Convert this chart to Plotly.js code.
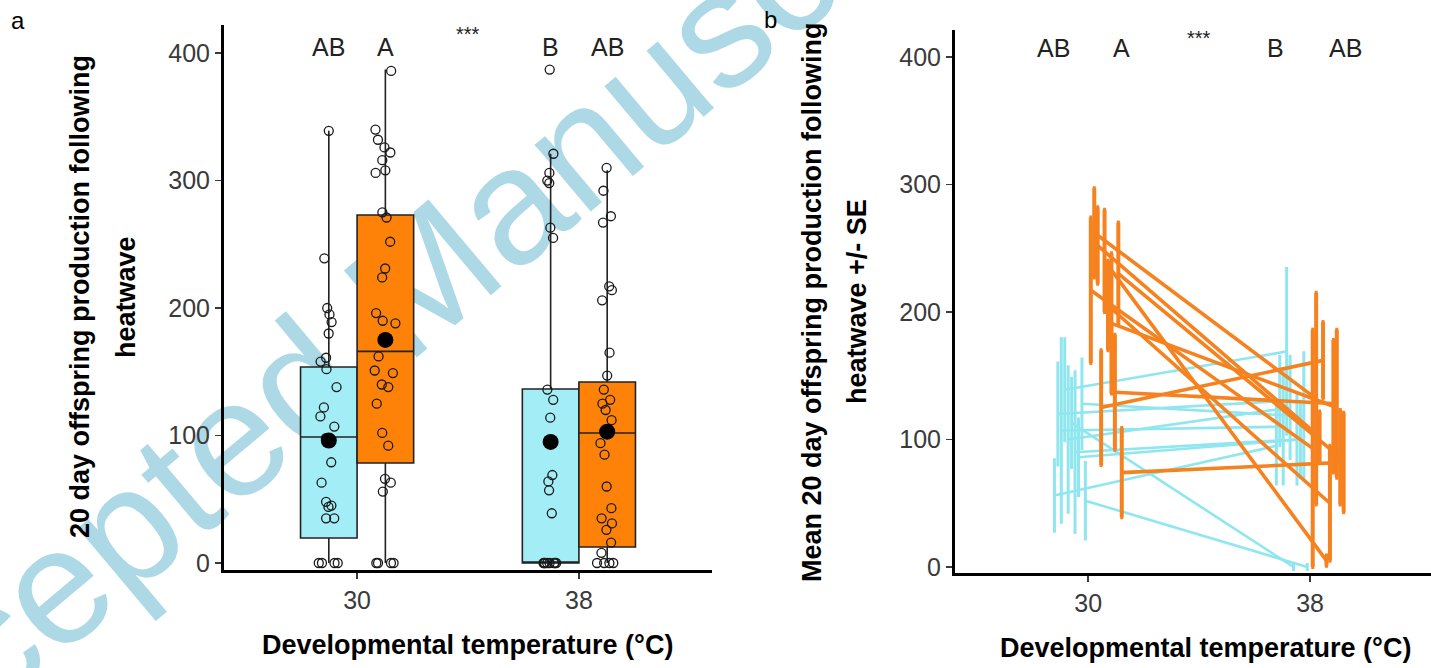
<!DOCTYPE html>
<html>
<head>
<meta charset="utf-8">
<script src="https://cdn.plot.ly/plotly-3.0.1.min.js"></script>
<style>
  html, body { margin:0; padding:0; background:#ffffff; width:1431px; height:668px; overflow:hidden; }
  #wm { position:absolute; left:-192px; top:712px; font-family:'Liberation Sans', Arial, sans-serif; font-size:165px; line-height:165px; color:#add8e6; white-space:nowrap; transform-origin:0 50%; transform:rotate(-40deg); z-index:0; }
  #chart { position:absolute; left:0; top:0; width:1431px; height:668px; z-index:1; }
</style>
</head>
<body>
<div id="wm">Accepted Manuscript</div>
<div id="chart"></div>
<script>
// ---------- DATA ----------
const temps = ["30", "38"];
const groupNames = ["Group cyan", "Group orange"];

// Panel a: box statistics
const cyanQ1 = [19.6, 0];
const cyanMedian = [98.8, 0];
const cyanQ3 = [153.7, 136.5];
const cyanLower = [0, 0];
const cyanUpper = [339, 321];

const orangeQ1 = [78.4, 12.5];
const orangeMedian = [166, 102];
const orangeQ3 = [273, 142];
const orangeLower = [0, 0];
const orangeUpper = [387, 308];

// Panel a: individual observations
const cyan30 = [339, 239, 200, 195, 189, 180, 161, 158, 152, 138, 122, 115, 107, 98, 79, 63, 48, 45, 44, 35, 35, 0, 0, 0, 0];
const orange30 = [386, 340, 332, 326, 322, 316, 308, 306, 275, 271, 252, 231, 224, 196, 190, 188, 162, 151, 149, 140, 138, 125, 102, 92, 66, 63, 56, 0, 0, 0, 0];
const cyan38 = [387, 321, 306, 300, 298, 263, 255, 136, 128, 114, 69, 64, 57, 39, 0, 0, 0, 0, 0, 0, 0, 0];
const orange38 = [310, 292, 272, 267, 217, 214, 206, 165, 147, 136, 128, 125, 120, 112, 103, 94, 85, 60, 43, 35, 31, 26, 16, 8, 0, 0, 0, 0];

// Panel a: group means
const cyanMeans = [96, 95];
const orangeMeans = [175, 103];

// Significance letters (shared by both panels)
const letters = ["AB", "A", "B", "AB"];
const starText = "***";

// Panel b: genotype means and SE (cyan group)
const c30 = [56, 120, 107, 139, 100, 113, 90, 86, 128, 52];
const c30se = [28, 40, 72, 40, 57, 35, 63, 30, 35, 30];
const c38 = [95, 130, 110, 169, 125, 0, 100, 100, 118, 0];
const c38se = [30, 35, 45, 65, 40, 2, 35, 30, 50, 2];

// Panel b: genotype means and SE (orange group)
const o30 = [217, 262, 252, 125, 240, 205, 191, 137, 230, 74];
const o30se = [57, 35, 30, 45, 40, 35, 55, 45, 40, 35];
const o38 = [93, 132, 102, 162, 5, 50, 126, 128, 86, 82];
const o38se = [93, 83, 20, 30, 4, 45, 52, 58, 37, 39];

// ---------- STYLE ----------
const FONT = "'Liberation Sans', Arial, Helvetica, sans-serif";
const cyanFill = '#a3eef6';
const orangeFill = '#ff8208';
const cyanLine = '#8fe6ef';
const orangeLine = '#f5821f';
const W = 1431, H = 668;

// ---------- PANEL A TRACES ----------
function rep(v, n) { return Array.from({length:n}, () => v); }

const traces = [];
traces.push({
  type:'box', name:groupNames[0], x:temps, q1:cyanQ1, median:cyanMedian, q3:cyanQ3,
  lowerfence:cyanLower, upperfence:cyanUpper, offsetgroup:'c', boxpoints:false,
  fillcolor:cyanFill, line:{color:'#222', width:1.6}, whiskerwidth:0, xaxis:'x', yaxis:'y'
});
traces.push({
  type:'box', name:groupNames[1], x:temps, q1:orangeQ1, median:orangeMedian, q3:orangeQ3,
  lowerfence:orangeLower, upperfence:orangeUpper, offsetgroup:'o', boxpoints:false,
  fillcolor:orangeFill, line:{color:'#222', width:1.6}, whiskerwidth:0, xaxis:'x', yaxis:'y'
});
const ptMarker = {symbol:'circle-open', size:9, color:'#1a1a1a', line:{width:1.3}};
traces.push({
  type:'box', name:groupNames[0], x:rep(temps[0], cyan30.length).concat(rep(temps[1], cyan38.length)),
  y:cyan30.concat(cyan38), offsetgroup:'c', boxpoints:'all', jitter:0.42, pointpos:0,
  fillcolor:'rgba(0,0,0,0)', line:{width:0, color:'rgba(0,0,0,0)'}, marker:ptMarker, xaxis:'x', yaxis:'y'
});
traces.push({
  type:'box', name:groupNames[1], x:rep(temps[0], orange30.length).concat(rep(temps[1], orange38.length)),
  y:orange30.concat(orange38), offsetgroup:'o', boxpoints:'all', jitter:0.42, pointpos:0,
  fillcolor:'rgba(0,0,0,0)', line:{width:0, color:'rgba(0,0,0,0)'}, marker:ptMarker, xaxis:'x', yaxis:'y'
});
const meanMarker = {symbol:'circle', size:16, color:'#000'};
traces.push({
  type:'box', name:groupNames[0], x:temps, y:cyanMeans, offsetgroup:'c', boxpoints:'all', jitter:0, pointpos:0,
  fillcolor:'rgba(0,0,0,0)', line:{width:0, color:'rgba(0,0,0,0)'}, marker:meanMarker, xaxis:'x', yaxis:'y'
});
traces.push({
  type:'box', name:groupNames[1], x:temps, y:orangeMeans, offsetgroup:'o', boxpoints:'all', jitter:0, pointpos:0,
  fillcolor:'rgba(0,0,0,0)', line:{width:0, color:'rgba(0,0,0,0)'}, marker:meanMarker, xaxis:'x', yaxis:'y'
});

// ---------- PANEL B TRACES (dodged genotype reaction norms) ----------
const dodgeStep = 0.0155;
c30.forEach((v, i) => {
  const off = -0.152 + i * dodgeStep;
  traces.push({
    type:'scatter', mode:'lines', name:groupNames[0], x:[0 + off, 1 + off], y:[c30[i], c38[i]],
    line:{color:cyanLine, width:2.6},
    error_y:{type:'data', array:[c30se[i], c38se[i]], visible:true, color:cyanLine, thickness:3, width:1.5},
    xaxis:'x2', yaxis:'y2'
  });
});
o30.forEach((v, i) => {
  const off = 0.012 + i * dodgeStep;
  traces.push({
    type:'scatter', mode:'lines', name:groupNames[1], x:[0 + off, 1 + off], y:[o30[i], o38[i]],
    line:{color:orangeLine, width:3.6},
    error_y:{type:'data', array:[o30se[i], o38se[i]], visible:true, color:orangeLine, thickness:4, width:1.5},
    xaxis:'x2', yaxis:'y2'
  });
});

// ---------- LAYOUT ----------
const tickFont = {family:FONT, size:25, color:'#3a3a3a'};
const axisCommon = {
  showline:true, linewidth:3, linecolor:'#000', ticks:'outside', ticklen:6, tickwidth:1.5, tickcolor:'#3a3a3a',
  tickfont:tickFont, showgrid:false, zeroline:false, fixedrange:true
};

const titleFont = {family:FONT, size:27, color:'#000'};
const ann = [];
// panel labels
ann.push({text:'a', xref:'paper', yref:'paper', x:18/W, y:1-20/H, xanchor:'center', yanchor:'middle', showarrow:false, font:{family:FONT, size:24, color:'#000'}});
ann.push({text:'b', xref:'paper', yref:'paper', x:770/W, y:1-19/H, xanchor:'center', yanchor:'middle', showarrow:false, font:{family:FONT, size:24, color:'#000'}});
// y titles (two lines each)
ann.push({text:'<b>20 day offspring production following</b>', xref:'paper', yref:'paper', x:80/W, y:1-297/H, xanchor:'center', yanchor:'middle', textangle:-90, showarrow:false, font:titleFont});
ann.push({text:'<b>heatwave</b>', xref:'paper', yref:'paper', x:126/W, y:1-297/H, xanchor:'center', yanchor:'middle', textangle:-90, showarrow:false, font:titleFont});
ann.push({text:'<b>Mean 20 day offspring production following</b>', xref:'paper', yref:'paper', x:812/W, y:1-302/H, xanchor:'center', yanchor:'middle', textangle:-90, showarrow:false, font:titleFont});
ann.push({text:'<b>heatwave +/- SE</b>', xref:'paper', yref:'paper', x:857/W, y:1-302/H, xanchor:'center', yanchor:'middle', textangle:-90, showarrow:false, font:titleFont});
// x titles
ann.push({text:'<b>Developmental temperature (°C)</b>', xref:'paper', yref:'paper', x:467/W, y:1-645/H, xanchor:'center', yanchor:'middle', showarrow:false, font:titleFont});
ann.push({text:'<b>Developmental temperature (°C)</b>', xref:'paper', yref:'paper', x:1205/W, y:1-648/H, xanchor:'center', yanchor:'middle', showarrow:false, font:titleFont});

// significance letters, panel a (box dodge offsets) and panel b (genotype dodge extents)
const letterFont = {family:FONT, size:25, color:'#222'};
const starFont = {family:FONT, size:20, color:'#222'};
const aOff = 0.1275, bOff = 0.155;
const aPos = [0 - aOff, 0 + aOff, 1 - aOff, 1 + aOff];
const bPos = [0 - bOff, 0 + 0.15, 1 - bOff, 1 + 0.158];
letters.forEach((t, i) => {
  ann.push({text:t, xref:'x', yref:'y', x:aPos[i], y:405, xanchor:'center', yanchor:'middle', showarrow:false, font:letterFont});
  ann.push({text:t, xref:'x2', yref:'y2', x:bPos[i], y:407, xanchor:'center', yanchor:'middle', showarrow:false, font:letterFont});
});
ann.push({text:starText, xref:'x', yref:'y', x:0.5, y:415, xanchor:'center', yanchor:'middle', showarrow:false, font:starFont});
ann.push({text:starText, xref:'x2', yref:'y2', x:0.5, y:415, xanchor:'center', yanchor:'middle', showarrow:false, font:starFont});

const layout = {
  width:W, height:H, margin:{l:0, r:0, t:0, b:0}, showlegend:false,
  paper_bgcolor:'rgba(0,0,0,0)', plot_bgcolor:'rgba(0,0,0,0)',
  font:{family:FONT},
  boxmode:'group', boxgap:0.49, boxgroupgap:0,
  xaxis:Object.assign({}, axisCommon, {domain:[224/W, 712/W], type:'category', categoryarray:temps, range:[-0.6, 1.6], anchor:'y'}),
  yaxis:Object.assign({}, axisCommon, {domain:[1-570/H, 1-25/H], range:[-5.5, 422], tickvals:[0,100,200,300,400], anchor:'x'}),
  xaxis2:Object.assign({}, axisCommon, {domain:[955/W, 1], range:[-0.6, 1.545], tickvals:[0,1], ticktext:temps, anchor:'y2'}),
  yaxis2:Object.assign({}, axisCommon, {domain:[1-573/H, 1-30/H], range:[-4.7, 421], tickvals:[0,100,200,300,400], anchor:'x2'}),
  annotations:ann
};

Plotly.newPlot('chart', traces, layout, {staticPlot:true, displayModeBar:false});
</script>
</body>
</html>
